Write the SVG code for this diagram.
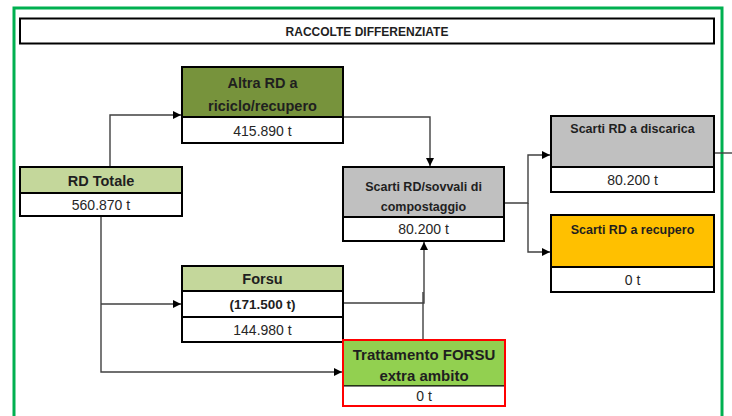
<svg xmlns="http://www.w3.org/2000/svg" width="732" height="416" viewBox="0 0 732 416">
<defs>
<marker id="arr" markerWidth="9" markerHeight="9" refX="8" refY="4" orient="auto" markerUnits="userSpaceOnUse">
<path d="M0,0 L8,4 L0,8 z" fill="#000"/>
</marker>
<style>
.box{stroke:#000;stroke-width:2}
.t{font-family:"Liberation Sans",Arial,sans-serif;font-weight:bold;fill:#1f1f1f;text-anchor:middle}
.v{font-family:"Liberation Sans",Arial,sans-serif;fill:#262626;text-anchor:middle;font-size:14px}
.c{fill:none;stroke:#404040;stroke-width:1.4}
</style>
</defs>
<rect x="0" y="0" width="732" height="416" fill="#fff"/>
<rect x="14" y="8" width="708" height="420" fill="none" stroke="#00b050" stroke-width="3"/>
<g id="title">
<rect class="box" x="20" y="18.5" width="694" height="25" fill="#fff"/>
<text class="t" x="367" y="35.5" font-size="12">RACCOLTE DIFFERENZIATE</text>
</g>
<g id="connectors">
<path class="c" d="M110,167 V115 H181" marker-end="url(#arr)"/>
<path class="c" d="M343,117 H430 V166" marker-end="url(#arr)"/>
<path class="c" d="M504,203 H528 V155 H550" marker-end="url(#arr)"/>
<path class="c" d="M528,203 V252 H550" marker-end="url(#arr)"/>
<path class="c" d="M714,153 H732"/>
<path class="c" d="M101,216 V372 H342" marker-end="url(#arr)"/>
<path class="c" d="M101,304 H181" marker-end="url(#arr)"/>
<path class="c" d="M343,303 H424 V242" marker-end="url(#arr)"/>
<path class="c" d="M423,340 V292"/>
</g>
<g id="altra-rd">
<rect class="box" x="182" y="67" width="161" height="50" fill="#77933c"/>
<rect class="box" x="182" y="117" width="161" height="26" fill="#fff"/>
<text class="t" x="262.5" y="88" font-size="14.5">Altra RD a</text>
<text class="t" x="262.5" y="111" font-size="14.5">riciclo/recupero</text>
<text class="v" x="262.5" y="135.5">415.890 t</text>
</g>
<g id="rd-totale">
<rect class="box" x="20" y="167" width="162" height="26" fill="#c4d79b"/>
<rect class="box" x="20" y="193" width="162" height="23" fill="#fff"/>
<text class="t" x="101" y="186" font-size="14.5">RD Totale</text>
<text class="v" x="101" y="209.5">560.870 t</text>
</g>
<g id="scarti-sovvali">
<rect class="box" x="343" y="167" width="161" height="50" fill="#c0c0c0"/>
<rect class="box" x="343" y="217" width="161" height="24" fill="#fff"/>
<text class="t" x="423.5" y="191" font-size="12.5">Scarti RD/sovvali di</text>
<text class="t" x="423.5" y="211" font-size="12.5">compostaggio</text>
<text class="v" x="423.5" y="234">80.200 t</text>
</g>
<g id="scarti-discarica">
<rect class="box" x="551" y="116" width="163" height="51" fill="#c0c0c0"/>
<rect class="box" x="551" y="167" width="163" height="25" fill="#fff"/>
<text class="t" x="632.5" y="133" font-size="12.5">Scarti RD a discarica</text>
<text class="v" x="632.5" y="185">80.200 t</text>
</g>
<g id="scarti-recupero">
<rect class="box" x="551" y="215" width="163" height="52" fill="#ffc000"/>
<rect class="box" x="551" y="267" width="163" height="25" fill="#fff"/>
<text class="t" x="632.5" y="234" font-size="12.5">Scarti RD a recupero</text>
<text class="v" x="632.5" y="285">0 t</text>
</g>
<g id="forsu">
<rect class="box" x="182" y="266" width="161" height="25" fill="#c4d79b"/>
<rect class="box" x="182" y="291" width="161" height="26" fill="#fff"/>
<rect class="box" x="182" y="317" width="161" height="25" fill="#fff"/>
<text class="t" x="262.5" y="284" font-size="14.5">Forsu</text>
<text class="t" x="262.5" y="309" font-size="13.5">(171.500 t)</text>
<text class="v" x="262.5" y="335">144.980 t</text>
</g>
<g id="trattamento">
<rect x="343" y="340" width="162" height="46" fill="#92d050" stroke="#000" stroke-width="1"/>
<rect x="343" y="386" width="162" height="20" fill="#fff" stroke="#000" stroke-width="1"/>
<rect x="343" y="340" width="162" height="66" fill="none" stroke="#ff0000" stroke-width="2"/>
<text class="t" x="424" y="360" font-size="15">Trattamento FORSU</text>
<text class="t" x="424" y="381" font-size="15">extra ambito</text>
<text class="v" x="424" y="401">0 t</text>
</g>
</svg>
